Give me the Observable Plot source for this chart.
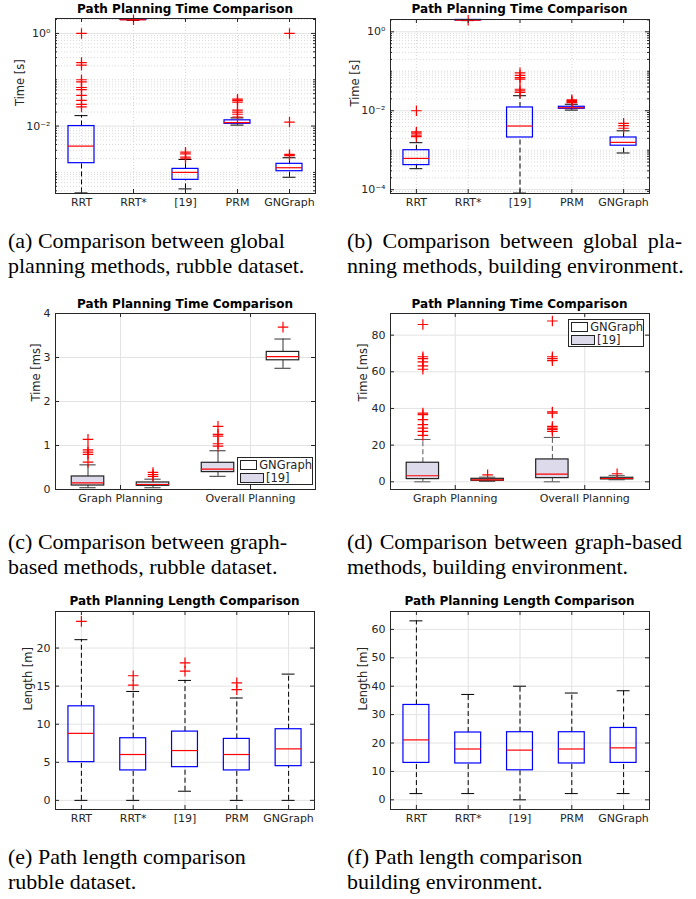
<!DOCTYPE html>
<html><head><meta charset="utf-8">
<script src="https://cdn.jsdelivr.net/npm/d3@7"></script>
<script src="https://cdn.jsdelivr.net/npm/@observablehq/plot@0.6"></script>
<style>
body{margin:0;background:#fff;}
#page{position:relative;width:696px;height:899px;overflow:hidden;background:#fff;font-family:"DejaVu Sans",sans-serif;}
.panel{position:absolute;}
.title{position:absolute;font-family:"DejaVu Sans",sans-serif;font-weight:bold;font-size:12px;color:#000;white-space:nowrap;transform:translate(-50%,-50%);}
.cap{position:absolute;font-family:"Liberation Serif","Times New Roman",serif;font-size:22px;line-height:25px;color:#000;white-space:nowrap;}
.legend{position:absolute;border:1px solid #262626;background:#fff;font-family:"DejaVu Sans",sans-serif;font-size:11.5px;color:#262626;box-sizing:border-box;}
.lrow{display:flex;align-items:center;height:13px;}
.sw{display:inline-block;width:22px;height:8px;border:1.5px solid #222;margin:0 2px 0 2px;}
</style></head><body><div id="page"></div>
<script>
// ---------------- DATA ----------------
const methods = ["RRT", "RRT*", "[19]", "PRM", "GNGraph"];

// (a) planning time [s], rubble dataset
const timeRubbleLo  = [3.6e-4, 1.92, 4.4e-4, 0.0105, 7.85e-4];
const timeRubbleQ1  = [1.58e-3, 1.95, 6.9e-4, 0.0112, 1.06e-3];
const timeRubbleMed = [3.69e-3, 1.97, 1.0e-3, 0.0119, 1.26e-3];
const timeRubbleQ3  = [0.0100, 2.0, 1.19e-3, 0.0133, 1.53e-3];
const timeRubbleHi  = [0.0168, 2.02, 1.9e-3, 0.0150, 2.07e-3];
const timeRubbleOut = [
  [1.0, 0.235, 0.206, 0.10, 0.09, 0.068, 0.061, 0.046, 0.036, 0.0295, 0.026],
  [1.97],
  [2.73e-3, 2.52e-3, 2.13e-3, 1.97e-3],
  [0.038, 0.036, 0.033, 0.022, 0.020, 0.018, 0.0157],
  [1.0, 0.0122, 2.44e-3, 2.3e-3]
];

// (b) planning time [s], building environment
const timeBuildLo  = [3.4e-4, 1.92, 8.2e-5, 0.0104, 8.5e-4];
const timeBuildQ1  = [4.2e-4, 1.95, 2.1e-3, 0.0112, 1.3e-3];
const timeBuildMed = [6.2e-4, 1.97, 4.1e-3, 0.0119, 1.58e-3];
const timeBuildQ3  = [1.0e-3, 2.0, 0.0121, 0.0126, 2.1e-3];
const timeBuildHi  = [1.55e-3, 2.02, 0.024, 0.0146, 3.1e-3];
const timeBuildOut = [
  [0.01, 2.9e-3, 2.7e-3, 2.4e-3, 2.2e-3],
  [1.97],
  [0.091, 0.079, 0.069, 0.063, 0.035, 0.032, 0.029],
  [0.019, 0.018, 0.017, 0.016],
  [4.8e-3, 4.2e-3, 3.6e-3]
];

// (c)/(d) graph-based methods, time [ms]
const stages = ["Graph Planning", "Overall Planning"];
const graphSeries = ["GNGraph", "[19]"];
// (c) rubble: per stage, [GNGraph-side box, [19]-side box]
const graphRubbleLo  = [[0.04, 0.04], [0.30, 2.755]];
const graphRubbleQ1  = [[0.09, 0.084], [0.395, 2.937]];
const graphRubbleMed = [[0.15, 0.114], [0.465, 3.02]];
const graphRubbleQ3  = [[0.296, 0.16], [0.607, 3.127]];
const graphRubbleHi  = [[0.56, 0.235], [0.88, 3.42]];
const graphRubbleOut = [[[1.14, 0.90, 0.85, 0.80, 0.62], [0.387, 0.34, 0.296]],
                        [[1.435, 1.252, 1.214, 1.04, 0.987], [3.69]]];
// (d) building
const graphBuildLo  = [[0, 0.2], [0, 1.1]];
const graphBuildQ1  = [[1.46, 0.55], [2.0, 1.3]];
const graphBuildMed = [[3.3, 1.1], [4.2, 1.8]];
const graphBuildQ3  = [[10.4, 1.64], [12.2, 2.2]];
const graphBuildHi  = [[23.1, 2.55], [24.2, 3.5]];
const graphBuildOut = [[[85.8, 68.2, 67.2, 65.4, 63.2, 61.4, 37.5, 36.6, 33.9, 31.2, 29.3, 27.5, 25.3], [3.8]],
                       [[87.7, 68.2, 67.2, 66.1, 38.1, 37.5, 30.2, 29.3, 28.6, 27.5], [4.4]]];

// (e) path length [m], rubble dataset
const lenRubbleLo  = [0, 0, 1.2, 0, 0];
const lenRubbleQ1  = [5.02, 3.93, 4.36, 3.93, 4.49];
const lenRubbleMed = [8.8, 6.02, 6.54, 6.02, 6.76];
const lenRubbleQ3  = [12.35, 8.16, 9.03, 8.07, 9.34];
const lenRubbleHi  = [21.1, 14.3, 15.75, 13.44, 16.58];
const lenRubbleOut = [[23.5], [16.36, 15.14], [18.06, 16.97], [15.44, 14.53], []];

// (f) path length [m], building environment
const lenBuildLo  = [2.2, 2.2, 0, 2.2, 2.2];
const lenBuildQ1  = [13.0, 12.8, 10.4, 12.8, 13.0];
const lenBuildMed = [21.1, 17.9, 17.5, 17.9, 18.3];
const lenBuildQ3  = [33.4, 23.7, 23.8, 23.8, 25.3];
const lenBuildHi  = [63.0, 37.1, 40.0, 37.6, 38.4];
const lenBuildOut = [[], [], [], [], []];

// tick labels
const logTickLabels = {"1": "10\u2070", "0.01": "10\u207b\u00b2", "0.0001": "10\u207b\u2074"};

// ---------------- HELPERS ----------------
const page = document.getElementById("page");
const LAV = "#dcdaeb";

function methodRows(lo, q1, med, q3, hi, out, fills) {
  return methods.map((m, i) => ({name: m, x: i + 1, lo: lo[i], q1: q1[i], med: med[i], q3: q3[i], hi: hi[i],
    out: out[i], fill: fills ? fills[i] : "none"}));
}
function stageRows(lo, q1, med, q3, hi, out, fills) {
  const rows = [];
  stages.forEach((s, gi) => graphSeries.forEach((g, si) => {
    rows.push({name: g, x: gi + 1 + (si - 0.5) * 0.5, lo: lo[gi][si], q1: q1[gi][si], med: med[gi][si],
      q3: q3[gi][si], hi: hi[gi][si], out: out[gi][si], fill: fills[gi][si]});
  }));
  return rows;
}

function panel(cfg) {
  const {svg, frame, log, yDomain, yTicks, yFmt, xDomain, xTicks, xFmt, rows, boxW,
         yLabel, labelGap, whiskerDash, boxStroke, whiskerStroke, title, titleY} = cfg;
  const ml = frame.x0 - svg.left, mr = svg.left + svg.w - frame.x1;
  const mt = frame.y0 - svg.top, mb = svg.top + svg.h - frame.y1;
  const fw = frame.x1 - frame.x0, fh = frame.y1 - frame.y0;
  let minor = [];
  if (log) {
    const k0 = Math.floor(Math.log10(yDomain[0])), k1 = Math.ceil(Math.log10(yDomain[1]));
    for (let k = k0; k <= k1; k++) for (let m = 1; m <= 9; m++) {
      const v = m * Math.pow(10, k);
      if (v >= yDomain[0] && v <= yDomain[1] && !yTicks.some(t => Math.abs(t - v) / v < 1e-9)) minor.push(v);
    }
  }
  const outs = rows.flatMap(r => r.out.map(v => ({x: r.x, v})));
  const tk = "#262626";
  const marks = [
    log ? Plot.ruleY(minor, {y: d => d, stroke: "#dadada", strokeDasharray: "1,2"}) : null,
    Plot.ruleY(yTicks, {y: d => d, stroke: "#e3e3e3"}),
    Plot.ruleX(xTicks, {x: d => d, stroke: log ? "#d8d8d8" : "#e3e3e3", strokeDasharray: log ? "1,2" : null}),
    // whiskers
    Plot.ruleX(rows, {x: "x", y1: "q3", y2: "hi", stroke: whiskerStroke, strokeDasharray: whiskerDash}),
    Plot.ruleX(rows, {x: "x", y1: "lo", y2: "q1", stroke: whiskerStroke, strokeDasharray: whiskerDash}),
    Plot.ruleY(rows, {y: "hi", x1: d => d.x - boxW / 4, x2: d => d.x + boxW / 4, stroke: whiskerStroke}),
    Plot.ruleY(rows, {y: "lo", x1: d => d.x - boxW / 4, x2: d => d.x + boxW / 4, stroke: whiskerStroke}),
    // boxes
    Plot.rect(rows, {x1: d => d.x - boxW / 2, x2: d => d.x + boxW / 2, y1: "q1", y2: "q3", fill: "fill", stroke: boxStroke, strokeWidth: 1.2}),
    Plot.ruleY(rows, {y: "med", x1: d => d.x - boxW / 2, x2: d => d.x + boxW / 2, stroke: "#ff0000", strokeWidth: 1.2}),
    // outliers
    Plot.dot(outs, {x: "x", y: "v", symbol: "plus", r: 3.5, stroke: "#ff0000", strokeWidth: 1.2}),
    // inward ticks
    Plot.ruleY(yTicks, {y: d => d, insetRight: fw - 4, stroke: tk}),
    Plot.ruleY(yTicks, {y: d => d, insetLeft: fw - 4, stroke: tk}),
    log ? Plot.ruleY(minor, {y: d => d, insetRight: fw - 2, stroke: tk}) : null,
    log ? Plot.ruleY(minor, {y: d => d, insetLeft: fw - 2, stroke: tk}) : null,
    Plot.ruleX(xTicks, {x: d => d, insetTop: fh - 4, stroke: tk}),
    Plot.ruleX(xTicks, {x: d => d, insetBottom: fh - 4, stroke: tk}),
    Plot.frame({stroke: tk, strokeWidth: 1}),
    Plot.axisY({ticks: yTicks, tickFormat: yFmt, tickSize: 0, tickPadding: 5, label: null}),
    Plot.axisX({ticks: xTicks, tickFormat: xFmt, tickSize: 0, tickPadding: 5, label: null}),
    Plot.text([yLabel], {frameAnchor: "left", rotate: -90, dx: -labelGap, text: d => d, fontSize: 11.5, fill: tk})
  ];
  const chart = Plot.plot({
    width: svg.w, height: svg.h,
    marginLeft: ml, marginRight: mr, marginTop: mt, marginBottom: mb,
    x: {type: "linear", domain: xDomain},
    y: log ? {type: "log", domain: yDomain} : {type: "linear", domain: yDomain},
    color: {type: "identity"},
    style: {fontFamily: "DejaVu Sans", fontSize: "11px", color: tk, background: "transparent", overflow: "visible"},
    marks
  });
  chart.classList.add("panel");
  chart.style.left = svg.left + "px";
  chart.style.top = svg.top + "px";
  page.appendChild(chart);
  const t = document.createElement("div");
  t.className = "title";
  t.textContent = title;
  t.style.left = ((frame.x0 + frame.x1) / 2) + "px";
  t.style.top = titleY + "px";
  page.appendChild(t);
}

const methodTicks = methods.map((m, i) => i + 1);
const methodFmt = d => methods[d - 1];
const stageTicks = stages.map((s, i) => i + 1);
const stageFmt = d => stages[d - 1];
const logFmt = d => logTickLabels[String(d)] || "";

// (a)
panel({svg: {left: 0, top: 0, w: 345, h: 215}, frame: {x0: 55, x1: 315, y0: 18, y1: 193},
  log: true, yDomain: [3.5e-4, 2.1], yTicks: [0.01, 1], yFmt: logFmt,
  xDomain: [0.5, 5.5], xTicks: methodTicks, xFmt: methodFmt,
  rows: methodRows(timeRubbleLo, timeRubbleQ1, timeRubbleMed, timeRubbleQ3, timeRubbleHi, timeRubbleOut),
  boxW: 0.5, yLabel: "Time [s]", labelGap: 35, whiskerDash: "5,3", boxStroke: "#0000ff", whiskerStroke: "#000",
  title: "Path Planning Time Comparison", titleY: 9});
// (b)
panel({svg: {left: 345, top: 0, w: 351, h: 215}, frame: {x0: 390, x1: 649, y0: 19, y1: 193},
  log: true, yDomain: [8e-5, 2.05], yTicks: [1e-4, 0.01, 1], yFmt: logFmt,
  xDomain: [0.5, 5.5], xTicks: methodTicks, xFmt: methodFmt,
  rows: methodRows(timeBuildLo, timeBuildQ1, timeBuildMed, timeBuildQ3, timeBuildHi, timeBuildOut),
  boxW: 0.5, yLabel: "Time [s]", labelGap: 35, whiskerDash: "5,3", boxStroke: "#0000ff", whiskerStroke: "#000",
  title: "Path Planning Time Comparison", titleY: 9});
// (c)
panel({svg: {left: 0, top: 295, w: 345, h: 215}, frame: {x0: 55, x1: 315, y0: 313, y1: 489},
  log: false, yDomain: [0, 4], yTicks: [0, 1, 2, 3, 4], yFmt: d => String(d),
  xDomain: [0.5, 2.5], xTicks: stageTicks, xFmt: stageFmt,
  rows: stageRows(graphRubbleLo, graphRubbleQ1, graphRubbleMed, graphRubbleQ3, graphRubbleHi, graphRubbleOut,
    [[LAV, LAV], [LAV, "white"]]),
  boxW: 0.25, yLabel: "Time [ms]", labelGap: 19, whiskerDash: null, boxStroke: "#222", whiskerStroke: "#333",
  title: "Path Planning Time Comparison", titleY: 304});
// (d)
panel({svg: {left: 345, top: 295, w: 351, h: 215}, frame: {x0: 390, x1: 649, y0: 313, y1: 489},
  log: false, yDomain: [-4.2, 91.8], yTicks: [0, 20, 40, 60, 80], yFmt: d => String(d),
  xDomain: [0.5, 2.5], xTicks: stageTicks, xFmt: stageFmt,
  rows: stageRows(graphBuildLo, graphBuildQ1, graphBuildMed, graphBuildQ3, graphBuildHi, graphBuildOut,
    [[LAV, LAV], [LAV, LAV]]),
  boxW: 0.25, yLabel: "Time [ms]", labelGap: 27, whiskerDash: "5,3", boxStroke: "#222", whiskerStroke: "#555",
  title: "Path Planning Time Comparison", titleY: 304});
// (e)
panel({svg: {left: 0, top: 590, w: 345, h: 235}, frame: {x0: 55, x1: 314, y0: 611, y1: 809},
  log: false, yDomain: [-1.2, 24.8], yTicks: [0, 5, 10, 15, 20], yFmt: d => String(d),
  xDomain: [0.5, 5.5], xTicks: methodTicks, xFmt: methodFmt,
  rows: methodRows(lenRubbleLo, lenRubbleQ1, lenRubbleMed, lenRubbleQ3, lenRubbleHi, lenRubbleOut),
  boxW: 0.5, yLabel: "Length [m]", labelGap: 27, whiskerDash: "5,3", boxStroke: "#0000ff", whiskerStroke: "#000",
  title: "Path Planning Length Comparison", titleY: 601});
// (f)
panel({svg: {left: 345, top: 590, w: 351, h: 235}, frame: {x0: 390, x1: 649, y0: 611, y1: 809},
  log: false, yDomain: [-3.4, 66.3], yTicks: [0, 10, 20, 30, 40, 50, 60], yFmt: d => String(d),
  xDomain: [0.5, 5.5], xTicks: methodTicks, xFmt: methodFmt,
  rows: methodRows(lenBuildLo, lenBuildQ1, lenBuildMed, lenBuildQ3, lenBuildHi, lenBuildOut),
  boxW: 0.5, yLabel: "Length [m]", labelGap: 27, whiskerDash: "5,3", boxStroke: "#0000ff", whiskerStroke: "#000",
  title: "Path Planning Length Comparison", titleY: 601});

// legends
function legend(left, top) {
  const d = document.createElement("div");
  d.className = "legend";
  d.style.left = left + "px"; d.style.top = top + "px"; d.style.width = "76px"; d.style.height = "28px";
  const fills = {"GNGraph": "#fff", "[19]": LAV};
  graphSeries.forEach(s => {
    const r = document.createElement("div"); r.className = "lrow";
    const sw = document.createElement("span"); sw.className = "sw"; sw.style.background = fills[s];
    const tx = document.createElement("span"); tx.textContent = s;
    r.appendChild(sw); r.appendChild(tx); d.appendChild(r);
  });
  page.appendChild(d);
}
legend(237, 457);
legend(568, 319);

// captions
const captions = [
  {left: 8, top: 227.5, lines: ["(a) Comparison between global", "planning methods, rubble dataset."]},
  {left: 347, top: 227.5, lines: ["(b) Comparison between global pla-", "nning methods, building environment."], justify: [335, 0]},
  {left: 8, top: 528.5, lines: ["(c) Comparison between graph-", "based methods, rubble dataset."]},
  {left: 347, top: 528.5, lines: ["(d) Comparison between graph-based", "methods, building environment."], justify: [335, 0]},
  {left: 8, top: 843.5, lines: ["(e) Path length comparison", "rubble dataset."]},
  {left: 347, top: 843.5, lines: ["(f) Path length comparison", "building environment."]}
];
captions.forEach(c => c.lines.forEach((ln, i) => {
  const d = document.createElement("div");
  d.className = "cap";
  d.textContent = ln;
  d.style.left = c.left + "px";
  d.style.top = (c.top + i * 25) + "px";
  if (c.justify && c.justify[i]) {
    d.style.width = c.justify[i] + "px";
    d.style.textAlign = "justify";
    d.style.textAlignLast = "justify";
    d.style.whiteSpace = "normal";
  }
  page.appendChild(d);
}));
</script>
</body></html>
